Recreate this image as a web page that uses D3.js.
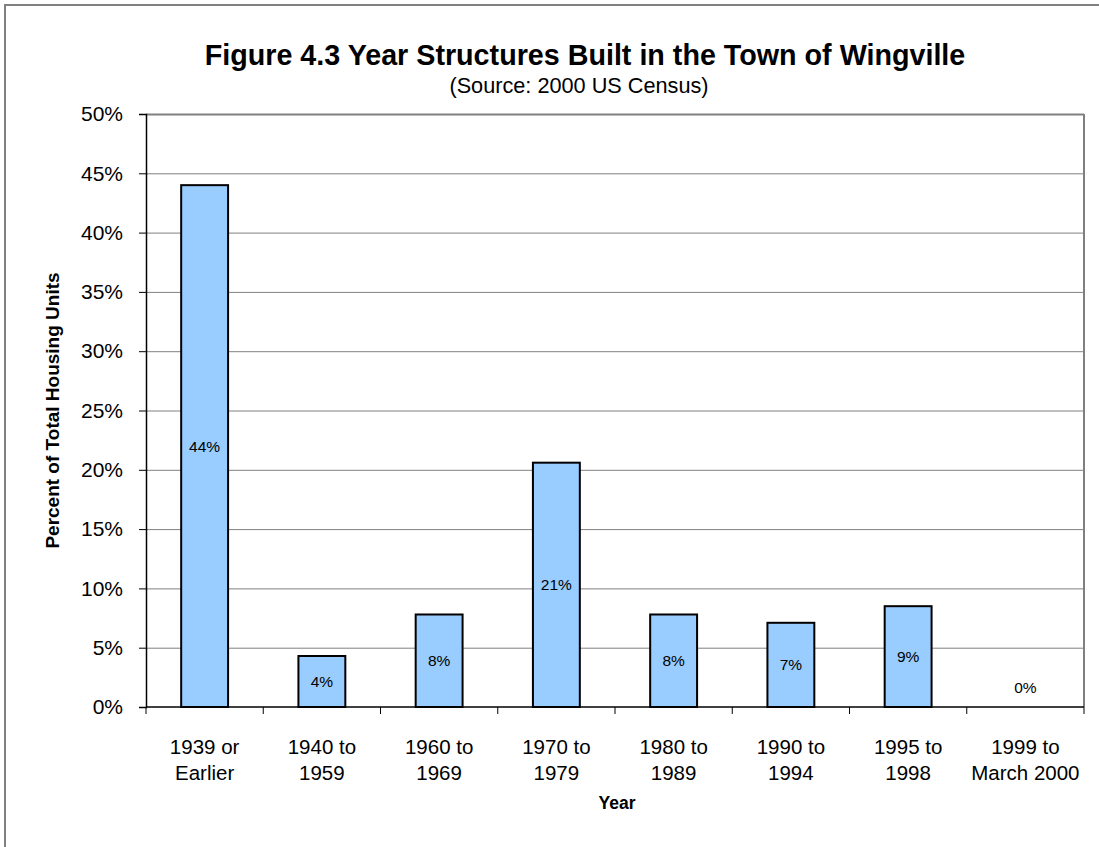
<!DOCTYPE html>
<html>
<head>
<meta charset="utf-8">
<script src="https://cdn.jsdelivr.net/npm/d3@7"></script>
<style>
  html, body { margin: 0; padding: 0; background: #fff; }
  svg { display: block; font-family: "Liberation Sans", Arial, sans-serif; }
</style>
</head>
<body>
<div id="chart"></div>
<script>
// Data
const categories = [
  ["1939 or", "Earlier"],
  ["1940 to", "1959"],
  ["1960 to", "1969"],
  ["1970 to", "1979"],
  ["1980 to", "1989"],
  ["1990 to", "1994"],
  ["1995 to", "1998"],
  ["1999 to", "March 2000"]
];
const values = [44.0, 4.3, 7.8, 20.6, 7.8, 7.1, 8.5, 0];
const yTicks = [0, 5, 10, 15, 20, 25, 30, 35, 40, 45, 50];

const width = 1099;
const height = 847;
const plot = { left: 146, right: 1084, top: 114, bottom: 707 };

const svg = d3.select("#chart")
  .append("svg")
    .attr("width", width)
    .attr("height", height);

// outer chart border (top and left only visible)
svg.append("path")
  .attr("d", `M5,${height} L5,5 L${width},5`)
  .attr("fill", "none")
  .attr("stroke", "#808080")
  .attr("stroke-width", 2);

const x = d3.scaleBand()
  .domain(d3.range(categories.length))
  .range([plot.left, plot.right])
  .paddingInner(0.6)
  .paddingOuter(0.3);

const xOuter = d3.scaleBand()
  .domain(d3.range(categories.length))
  .range([plot.left, plot.right]);

const y = d3.scaleLinear()
  .domain([0, 50])
  .range([plot.bottom, plot.top]);

// gridlines
svg.append("g")
  .selectAll("line")
  .data(yTicks.filter(d => d > 0))
  .join("line")
    .attr("x1", plot.left)
    .attr("x2", plot.right)
    .attr("y1", d => y(d) + 0.5)
    .attr("y2", d => y(d) + 0.5)
    .attr("stroke", "#808080")
    .attr("stroke-width", d => d === 50 ? 2 : 1);

// right border of plot area
svg.append("line")
  .attr("x1", plot.right)
  .attr("x2", plot.right)
  .attr("y1", plot.top)
  .attr("y2", plot.bottom)
  .attr("stroke", "#808080")
  .attr("stroke-width", 2);

// bars
svg.append("g")
  .selectAll("rect")
  .data(values)
  .join("rect")
    .attr("x", (d, i) => x(i))
    .attr("y", d => y(d))
    .attr("width", x.bandwidth())
    .attr("height", d => y(0) - y(d))
    .attr("fill", "#99CCFF")
    .attr("stroke", d => d > 0 ? "#000" : "none")
    .attr("stroke-width", 2);

// data labels
svg.append("g")
  .selectAll("text")
  .data(values)
  .join("text")
    .attr("x", (d, i) => x(i) + x.bandwidth() / 2)
    .attr("y", d => d > 0 ? (y(d) + y(0)) / 2 : y(0) - 19)
    .attr("dy", "0.35em")
    .attr("text-anchor", "middle")
    .style("font-size", "15.5px")
    .attr("fill", "#000")
    .text(d => d3.format(".0f")(d) + "%");

// y axis
const yAxis = svg.append("g")
  .attr("transform", `translate(${plot.left},0)`)
  .call(d3.axisLeft(y).tickValues(yTicks).tickSize(7).tickPadding(16).tickFormat(d => d + "%"));
yAxis.select(".domain").attr("stroke", "#000").attr("stroke-width", 1.5);
yAxis.selectAll(".tick line").attr("stroke", "#000");
yAxis.selectAll(".tick text")
  .style("font-size", "21px")
  .style("font-family", "Liberation Sans, Arial, sans-serif")
  .attr("fill", "#000");

// x axis baseline and ticks
svg.append("line")
  .attr("x1", plot.left)
  .attr("x2", plot.right)
  .attr("y1", plot.bottom)
  .attr("y2", plot.bottom)
  .attr("stroke", "#000")
  .attr("stroke-width", 1.5);

svg.append("g")
  .selectAll("line")
  .data(d3.range(categories.length + 1))
  .join("line")
    .attr("x1", i => i < categories.length ? xOuter(i) : plot.right)
    .attr("x2", i => i < categories.length ? xOuter(i) : plot.right)
    .attr("y1", plot.bottom)
    .attr("y2", plot.bottom + 7)
    .attr("stroke", "#000");

const xLabels = svg.append("g")
  .selectAll("text")
  .data(categories)
  .join("text")
    .attr("x", (d, i) => xOuter(i) + xOuter.bandwidth() / 2)
    .attr("y", 754)
    .attr("text-anchor", "middle")
    .style("font-size", "20.5px")
    .attr("fill", "#000");
xLabels.append("tspan")
  .attr("x", function() { return d3.select(this.parentNode).attr("x"); })
  .text(d => d[0]);
xLabels.append("tspan")
  .attr("x", function() { return d3.select(this.parentNode).attr("x"); })
  .attr("dy", 26)
  .text(d => d[1]);

// axis titles
svg.append("text")
  .attr("x", 617)
  .attr("y", 809)
  .attr("text-anchor", "middle")
  .style("font-size", "17.5px")
  .style("font-weight", "bold")
  .text("Year");

svg.append("text")
  .attr("transform", `translate(59, ${(plot.top + plot.bottom) / 2}) rotate(-90)`)
  .attr("text-anchor", "middle")
  .style("font-size", "19px")
  .style("font-weight", "bold")
  .text("Percent of Total Housing Units");

// title
svg.append("text")
  .attr("x", 585)
  .attr("y", 65)
  .attr("text-anchor", "middle")
  .style("font-size", "28.7px")
  .style("font-weight", "bold")
  .text("Figure 4.3 Year Structures Built in the Town of Wingville");

svg.append("text")
  .attr("x", 579)
  .attr("y", 93)
  .attr("text-anchor", "middle")
  .style("font-size", "21.7px")
  .text("(Source: 2000 US Census)");
</script>
</body>
</html>
